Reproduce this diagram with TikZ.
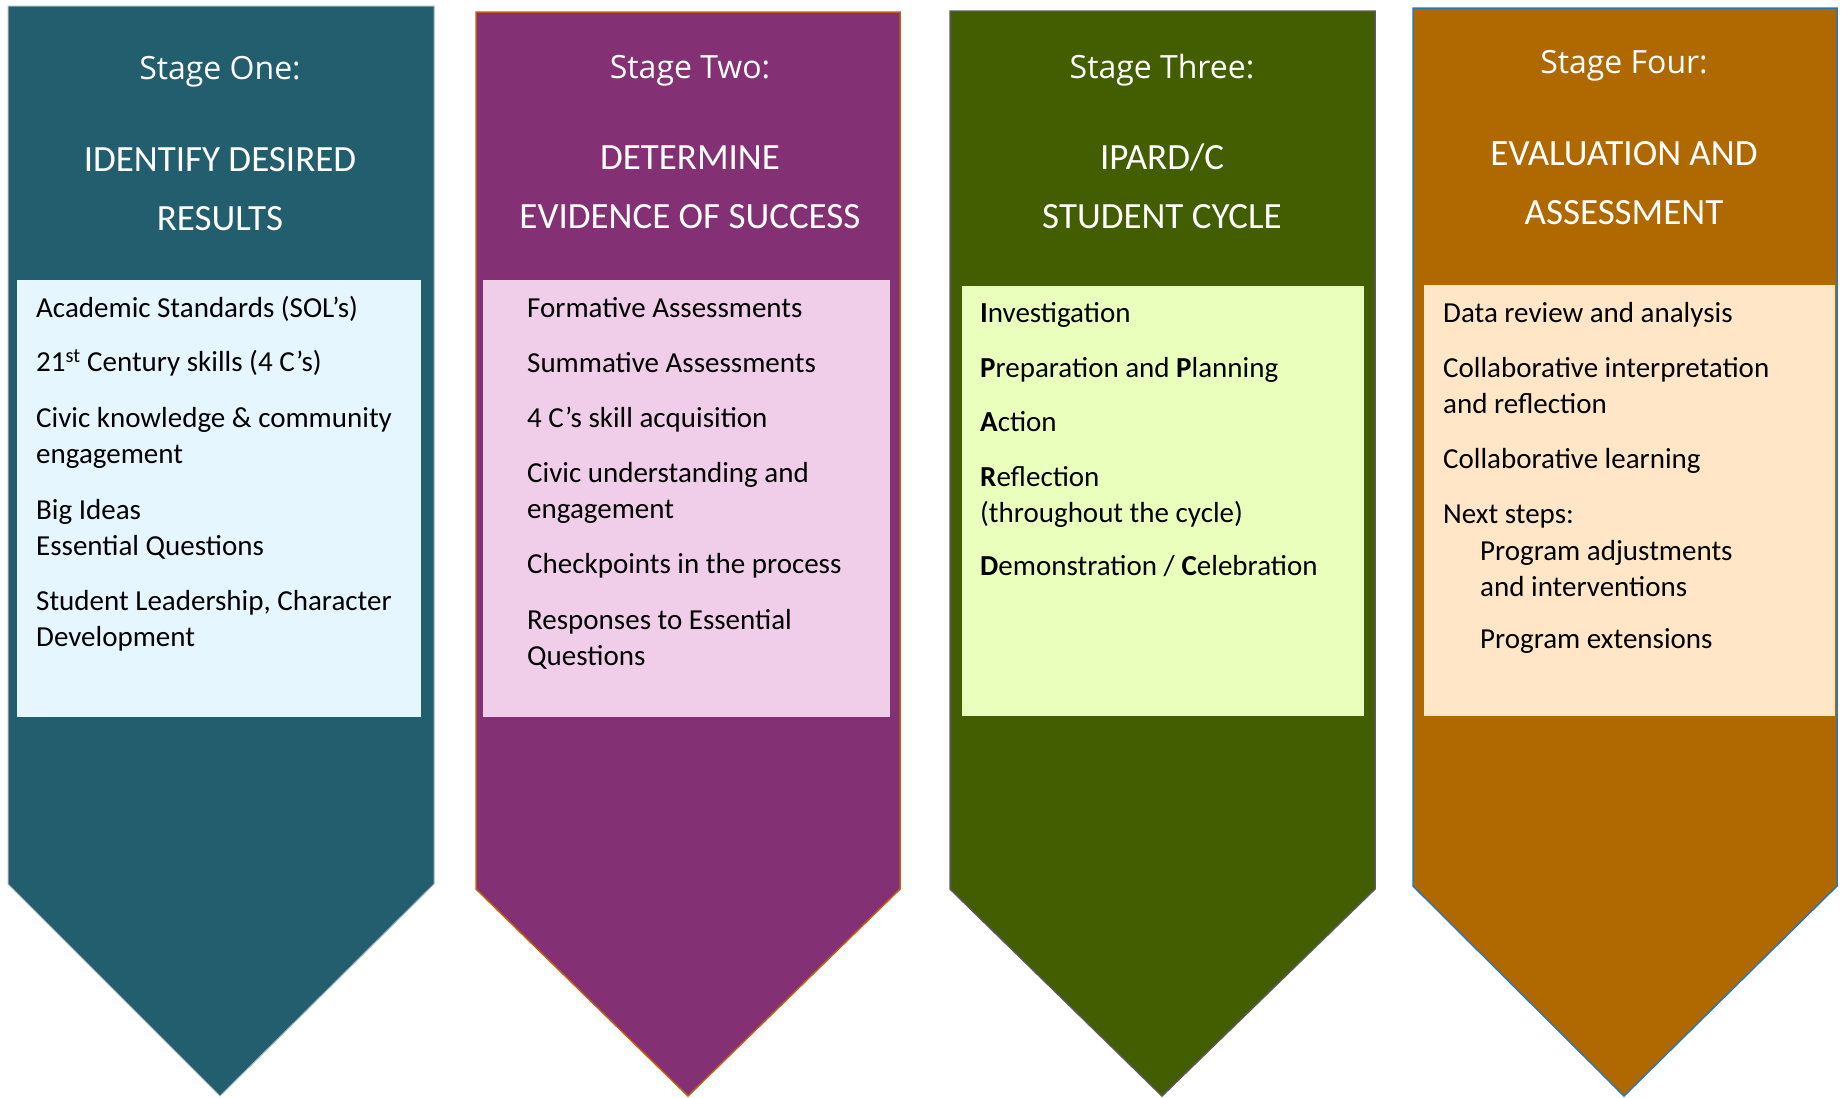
\documentclass[tikz,border=0pt]{standalone}
\usepackage{fontspec}
\setmainfont{Carlito}
\newfontfamily\stagefont{Open Sans}

\definecolor{onefill}{HTML}{235E6F}
\definecolor{twofill}{HTML}{833174}
\definecolor{threefill}{HTML}{435E00}
\definecolor{fourfill}{HTML}{B06800}
\definecolor{onebox}{HTML}{E5F6FF}
\definecolor{twobox}{HTML}{F0CDE8}
\definecolor{threebox}{HTML}{EAFFBC}
\definecolor{fourbox}{HTML}{FFE6C7}
\definecolor{oneline}{HTML}{A6B4BA}
\definecolor{twoline}{HTML}{C55A11}
\definecolor{threeline}{HTML}{595959}
\definecolor{fourline}{HTML}{2E75B6}

\begin{document}
\begin{tikzpicture}[x=1bp,y=-1bp,
    stagetitle/.style={text=white, inner sep=0pt, anchor=base,
        font=\stagefont\fontsize{32bp}{38bp}\selectfont},
    stagehead/.style={text=white, inner sep=0pt, anchor=base, align=center,
        font=\fontsize{37bp}{59bp}\selectfont},
    itembox/.style={inner sep=0pt, anchor=north west, draw=none},
    item/.style={inner sep=0pt, anchor=base west, align=left,
        font=\fontsize{29bp}{36bp}\selectfont},
]
    \useasboundingbox (0,0) rectangle (1843,1097);

    % stage one (multi-line nodes sit on their last baseline)
    \draw[line width=1bp, draw=oneline, fill=onefill] (8,6) -- (434,6) -- (434,884) -- (220,1096) -- (8,884) -- cycle;
    \node[itembox, fill=onebox, minimum width=404.5bp, minimum height=437bp] (boxone) at (16.5,280) {};
    \node[stagetitle] (titleone) at (220,79) {Stage One:};
    \node[stagehead] (headone) at (220,230) {IDENTIFY DESIRED\\RESULTS};
    \node[item] (acad) at (36,317) {Academic Standards (SOL’s)};
    \node[item] (century) at (36,371) {21\textsuperscript{st} Century skills (4 C’s)};
    \node[item] (civicone) at (36,463) {Civic knowledge \& community\\engagement};
    \node[item] (ideas) at (36,555) {Big Ideas\\Essential Questions};
    \node[item] (leader) at (36,646) {Student Leadership, Character\\Development};

    % stage two
    \draw[line width=1.5bp, draw=twoline, fill=twofill] (476,12) -- (900,12) -- (900,889) -- (688,1096) -- (476,889) -- cycle;
    \node[itembox, fill=twobox, minimum width=407bp, minimum height=437bp] (boxtwo) at (483,280) {};
    \node[stagetitle] (titletwo) at (690,78) {Stage Two:};
    \node[stagehead] (headtwo) at (690,228) {DETERMINE\\EVIDENCE OF SUCCESS};
    \node[item] (formative) at (527,317) {Formative Assessments};
    \node[item] (summative) at (527,372) {Summative Assessments};
    \node[item] (skill) at (527,427) {4 C’s skill acquisition};
    \node[item] (civictwo) at (527,518) {Civic understanding and\\engagement};
    \node[item] (check) at (527,573) {Checkpoints in the process};
    \node[item] (respond) at (527,665) {Responses to Essential\\Questions};

    % stage three
    \draw[line width=1.5bp, draw=threeline, fill=threefill] (950,11) -- (1375,11) -- (1375,889) -- (1162,1096) -- (950,889) -- cycle;
    \node[itembox, fill=threebox, minimum width=402.5bp, minimum height=430.5bp] (boxthree) at (961.5,285.5) {};
    \node[stagetitle] (titlethree) at (1162,78) {Stage Three:};
    \node[stagehead] (headthree) at (1162,228) {IPARD/C\\STUDENT CYCLE};
    \node[item] (invest) at (980,322) {\textbf{I}nvestigation};
    \node[item] (prep) at (980,377) {\textbf{P}reparation and \textbf{P}lanning};
    \node[item] (action) at (980,431) {\textbf{A}ction};
    \node[item] (reflect) at (980,522) {\textbf{R}eflection\\(throughout the cycle)};
    \node[item] (demo) at (980,575) {\textbf{D}emonstration / \textbf{C}elebration};

    % stage four
    \draw[line width=1.5bp, draw=fourline, fill=fourfill] (1413,8) -- (1837,8) -- (1837,886) -- (1624,1096) -- (1413,886) -- cycle;
    \node[itembox, fill=fourbox, minimum width=411.5bp, minimum height=431.5bp] (boxfour) at (1423.5,284.5) {};
    \node[stagetitle] (titlefour) at (1624,73) {Stage Four:};
    \node[stagehead] (headfour) at (1624,224) {EVALUATION AND\\ASSESSMENT};
    \node[item] (data) at (1443,322) {Data review and analysis};
    \node[item] (interp) at (1443,413) {Collaborative interpretation\\and reflection};
    \node[item] (learn) at (1443,468) {Collaborative learning};
    \node[item] (next) at (1443,523) {Next steps:};
    \node[item] (adjust) at (1480,596) {Program adjustments\\and interventions};
    \node[item] (extend) at (1480,648) {Program extensions};
\end{tikzpicture}
\end{document}
